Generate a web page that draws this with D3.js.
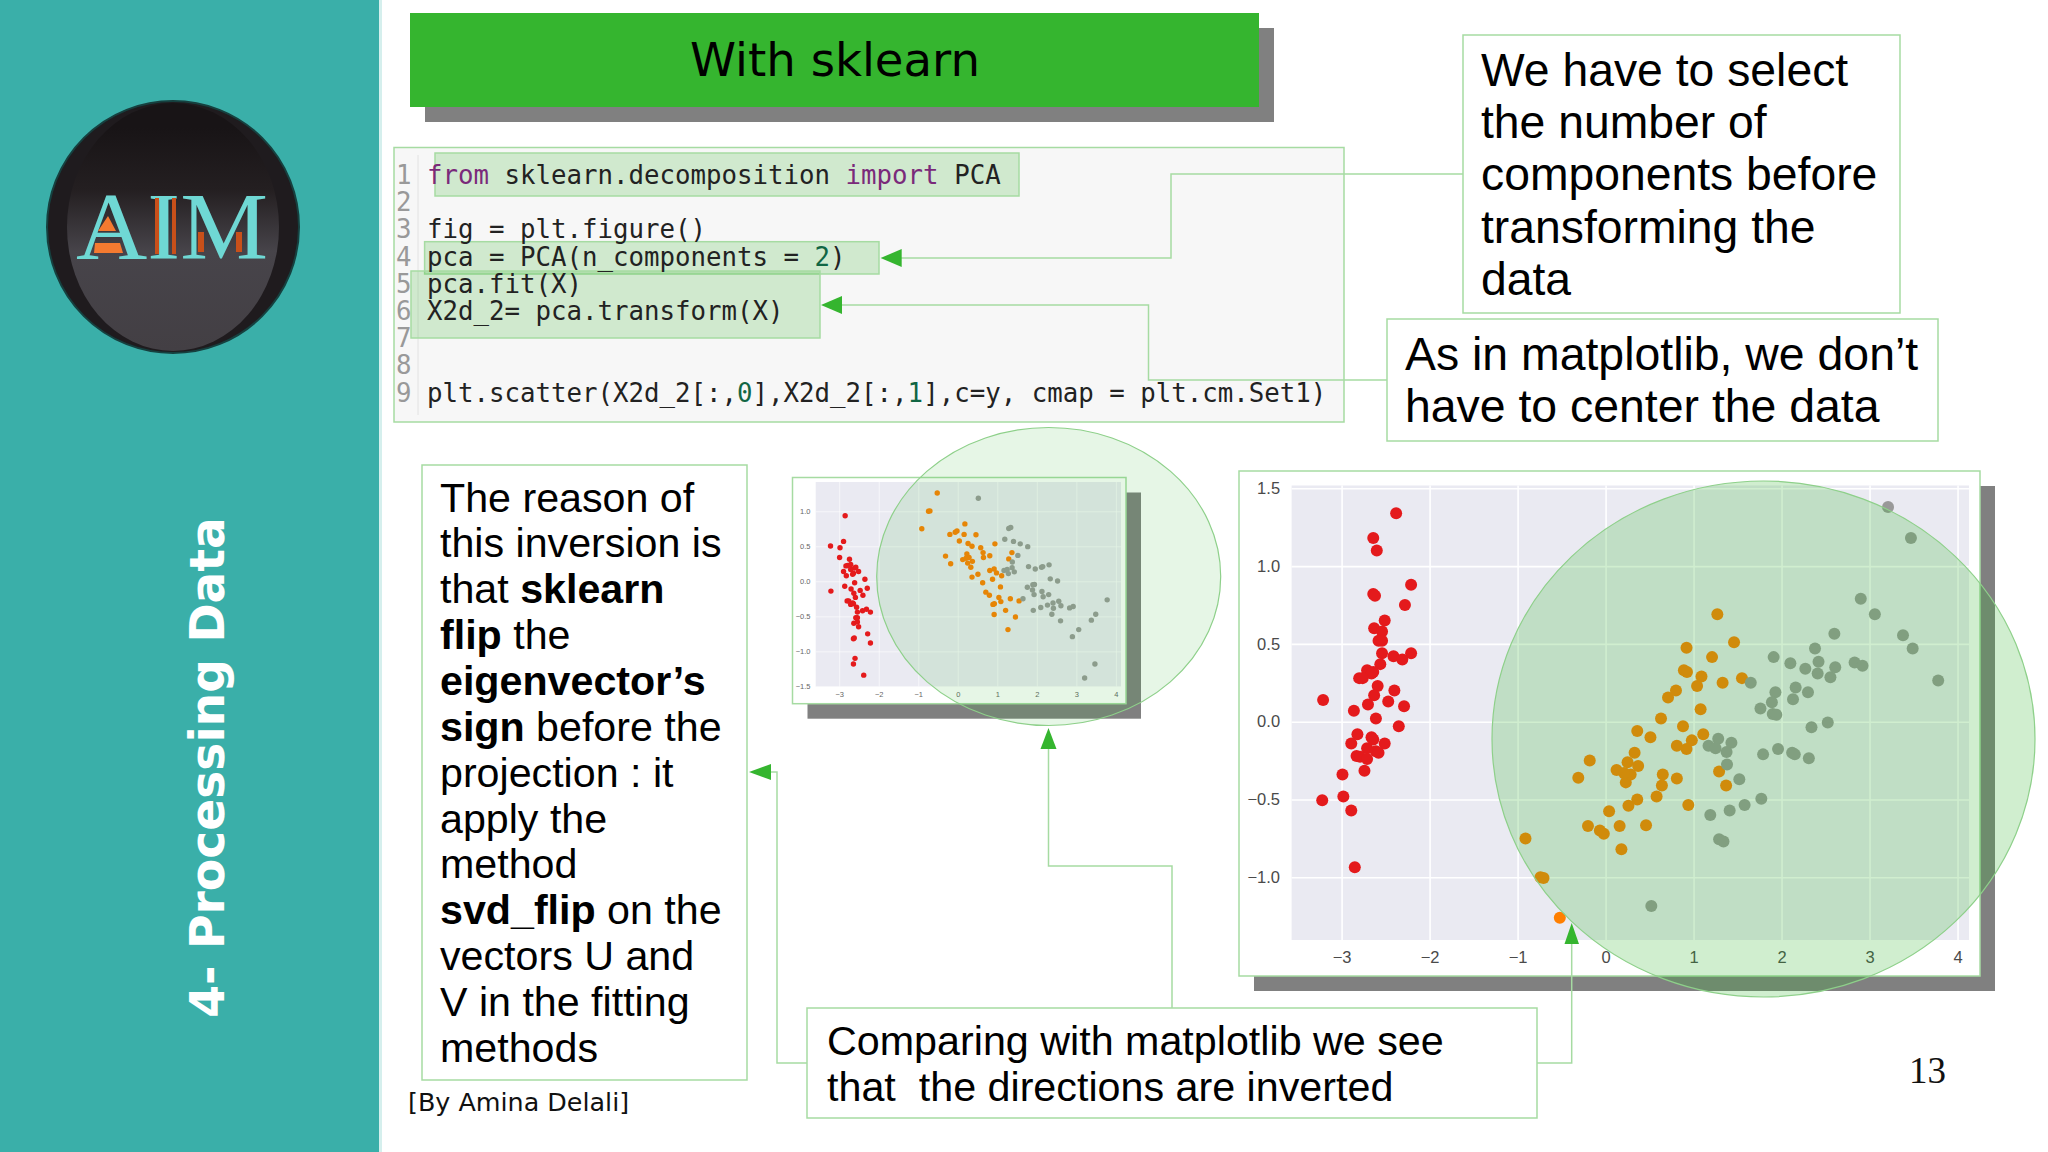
<!DOCTYPE html>
<html>
<head>
<meta charset="utf-8">
<script src="https://cdn.jsdelivr.net/npm/d3@7"></script>
<style>
  html, body { margin: 0; padding: 0; background: #fff; }
  svg { display: block; }
</style>
</head>
<body>
<svg id="slide" width="2048" height="1152"></svg>
<script>
const redPoints = [[-2.38,1.34],[-2.64,1.18],[-2.60,1.10],[-2.21,0.88],[-2.64,0.82],[-2.62,0.81],[-2.28,0.75],[-2.51,0.65],[-2.63,0.60],[-2.54,0.58],[-2.58,0.52],[-2.54,0.52],[-2.54,0.44],[-2.41,0.42],[-2.21,0.44],[-2.31,0.40],[-2.56,0.37],[-2.71,0.33],[-2.64,0.32],[-2.66,0.31],[-2.80,0.28],[-2.76,0.28],[-2.59,0.23],[-2.40,0.20],[-2.63,0.17],[-2.47,0.13],[-2.70,0.11],[-2.29,0.10],[-2.86,0.07],[-3.21,0.14],[-2.61,0.02],[-2.35,-0.03],[-2.82,-0.08],[-2.66,-0.10],[-2.64,-0.115],[-2.51,-0.14],[-2.89,-0.14],[-2.71,-0.17],[-2.61,-0.19],[-2.58,-0.20],[-2.83,-0.22],[-2.79,-0.225],[-2.71,-0.24],[-2.74,-0.315],[-2.99,-0.34],[-2.98,-0.48],[-3.22,-0.505],[-2.89,-0.57],[-2.85,-0.935]]
const orangePoints = [[-0.52,-1.26],[-0.74,-1.0],[-0.705,-1.005],[-0.91,-0.75],[0.18,-0.82],[-0.20,-0.67],[-0.065,-0.70],[-0.02,-0.72],[0.16,-0.67],[0.46,-0.665],[0.04,-0.575],[0.26,-0.54],[0.36,-0.50],[0.58,-0.48],[0.94,-0.535],[1.37,-0.41],[1.29,-0.32],[0.81,-0.365],[0.64,-0.41],[0.65,-0.34],[0.23,-0.39],[0.285,-0.34],[0.21,-0.33],[0.125,-0.31],[0.37,-0.285],[0.25,-0.26],[-0.18,-0.25],[-0.31,-0.36],[0.33,-0.20],[0.36,-0.06],[0.51,-0.10],[0.63,0.02],[0.88,-0.03],[0.81,-0.155],[0.92,-0.175],[0.98,-0.12],[1.11,-0.08],[1.08,0.08],[0.71,0.155],[0.80,0.20],[1.04,0.23],[1.09,0.29],[0.89,0.33],[0.925,0.32],[1.33,0.25],[1.55,0.28],[1.21,0.415],[0.92,0.475],[1.46,0.51],[1.27,0.69]]
const greyPoints = [[3.21,1.38],[3.47,1.18],[2.90,0.79],[3.06,0.69],[2.60,0.565],[3.38,0.555],[3.49,0.47],[2.38,0.47],[1.91,0.415],[2.10,0.375],[2.27,0.34],[2.42,0.385],[2.41,0.31],[2.555,0.285],[2.61,0.35],[2.83,0.38],[2.92,0.36],[3.78,0.265],[1.65,0.25],[2.16,0.22],[1.93,0.19],[2.30,0.19],[2.13,0.145],[1.89,0.125],[1.76,0.085],[1.90,0.05],[1.94,0.045],[2.525,-0.005],[2.34,-0.035],[1.43,-0.135],[1.28,-0.11],[1.17,-0.155],[1.25,-0.17],[1.375,-0.195],[1.79,-0.21],[1.96,-0.175],[2.12,-0.20],[2.15,-0.21],[2.31,-0.235],[1.38,-0.275],[1.52,-0.37],[1.77,-0.495],[1.58,-0.535],[1.41,-0.57],[1.19,-0.60],[1.29,-0.755],[1.34,-0.77],[0.52,-1.185]]

const xTicks = [-3, -2, -1, 0, 1, 2, 3, 4]
const bigYTicks = [1.5, 1.0, 0.5, 0.0, -0.5, -1.0]
const smallYTicks = [1.0, 0.5, 0.0, -0.5, -1.0, -1.5]

const series = [
  { points: redPoints, color: '#e41a1c' },
  { points: orangePoints, color: '#ff7f00' },
  { points: greyPoints, color: '#999999' },
]

const codeLines = [
  [['from', '#7a2a7a'], [' sklearn.decomposition ', '#222'], ['import', '#7a2a7a'], [' PCA', '#222']],
  [],
  [['fig = plt.figure()', '#222']],
  [['pca = PCA(n_components = ', '#222'], ['2', '#116644'], [')', '#222']],
  [['pca.fit(X)', '#222']],
  [['X2d_2= pca.transform(X)', '#222']],
  [],
  [],
  [['plt.scatter(X2d_2[:,', '#222'], ['0', '#116644'], ['],X2d_2[:,', '#222'], ['1', '#116644'], ['],c=y, cmap = plt.cm.Set1)', '#222']],
]

const selectLines = ['We have to select', 'the number of', 'components before', 'transforming the', 'data']
const centerLines = ['As in matplotlib, we don’t', 'have to center the data']
const compareLines = ['Comparing with matplotlib we see', 'that  the directions are inverted']
// bold parts are marked per line
const reasonLines = [
  [['The reason of', false]],
  [['this inversion is', false]],
  [['that ', false], ['sklearn', true]],
  [['flip', true], [' the', false]],
  [['eigenvector’s', true]],
  [['sign', true], [' before the', false]],
  [['projection : it', false]],
  [['apply the', false]],
  [['method', false]],
  [['svd_flip', true], [' on the', false]],
  [['vectors U and', false]],
  [['V in the fitting', false]],
  [['methods', false]],
]

const green = '#35b52f'
const lineGreen = '#a6dba2'
const sans = '"Liberation Sans", Arial, sans-serif'
const svg = d3.select('#slide')

const defs = svg.append('defs')
const logoGrad = defs.append('linearGradient').attr('id', 'logoGrad').attr('x1', 0).attr('x2', 0).attr('y1', 0).attr('y2', 1)
logoGrad.append('stop').attr('offset', '0.1').attr('stop-color', '#181416')
logoGrad.append('stop').attr('offset', '0.35').attr('stop-color', '#241f21')
logoGrad.append('stop').attr('offset', '0.6').attr('stop-color', '#47444a')
logoGrad.append('stop').attr('offset', '1').attr('stop-color', '#433f44')

drawSidebar()
drawHeader()
drawCodePanel()
drawTextBox(1463, 35, 437, 278, selectLines.map((d) => [[d, false]]), 1481, 86, 52.2, 46.3)
drawTextBox(1387, 319, 551, 122, centerLines.map((d) => [[d, false]]), 1405, 370, 52.2, 46.4)
drawTextBox(422, 465, 325, 615, reasonLines, 440, 511.5, 45.87, 41.2)
drawTextBox(807, 1008, 730, 110, compareLines.map((d) => [[d, false]]), 827, 1055, 46, 41.25)

drawScatter({
  box: [792.5, 477.5, 1126, 703.7],
  shadow: 15,
  xDomain: [-3.595, 4.13], xRange: [815.7, 1121],
  yDomain: [1.418, -1.505], yRange: [482, 686.7],
  yTicks: smallYTicks,
  flip: -1,
  r: 2.7,
  font: sans,
  fontSize: 7.5,
  fontColor: '#666',
  gridWidth: 0.6,
  ellipse: [1048.7, 576.5, 172, 149, 0.12],
})

drawScatter({
  box: [1239, 471, 1980, 976],
  shadow: 15,
  xDomain: [-3.568, 4.13], xRange: [1291.6, 1969],
  yDomain: [1.518, -1.403], yRange: [485.5, 940],
  yTicks: bigYTicks,
  flip: 1,
  r: 6,
  font: '"Liberation Sans Narrow", "Liberation Sans", sans-serif',
  fontSize: 16.5,
  fontColor: '#4a4a4a',
  gridWidth: 1.6,
  ellipse: [1763.5, 739, 271.5, 258, 0.23],
})

drawConnectors()

svg.append('text').attr('x', 408).attr('y', 1111)
  .style('font-family', '"DejaVu Sans"').style('font-size', '25.4px').attr('fill', '#111')
  .text('[By Amina Delali]')
svg.append('text').attr('x', 1909).attr('y', 1083)
  .style('font-family', '"Liberation Serif"').style('font-size', '37px').attr('fill', '#111')
  .text('13')

function drawSidebar() {
  svg.append('rect').attr('x', 378).attr('y', 0).attr('width', 4).attr('height', 1152).attr('fill', '#d5efed')
  svg.append('rect').attr('x', 0).attr('y', 0).attr('width', 379).attr('height', 1152).attr('fill', '#3aafa9')

  const logo = svg.append('g')
  logo.append('circle').attr('cx', 173).attr('cy', 227).attr('r', 126).attr('fill', '#1f1b1e').attr('stroke', '#16403f').attr('stroke-width', 2)
  logo.append('ellipse').attr('cx', 173).attr('cy', 227).attr('rx', 106).attr('ry', 124).attr('fill', 'url(#logoGrad)')
  logo.append('text').attr('x', 172).attr('y', 259).attr('text-anchor', 'middle')
    .attr('textLength', 192).attr('lengthAdjust', 'spacingAndGlyphs')
    .style('font-family', '"Liberation Serif"').style('font-size', '96px').attr('fill', '#6fd8d4')
    .text('AIM')
  logo.append('path').attr('d', 'M108 216L98 231H116ZM95 243H120L123 253H94Z').attr('fill', '#f47a30')
  logo.append('path').attr('d', 'M155 198h4v56h-4zM172 198h4v56h-4zM198 232h6v20h-6zM236 232h6v20h-6z').attr('fill', '#c8501a')

  svg.append('text')
    .attr('transform', 'translate(224,767.5) rotate(-90)')
    .attr('text-anchor', 'middle')
    .style('font-family', '"DejaVu Sans"').style('font-weight', 'bold').style('font-size', '47.2px')
    .attr('fill', '#fff')
    .text('4- Processing Data')
}

function drawHeader() {
  svg.append('rect').attr('x', 425).attr('y', 28).attr('width', 849).attr('height', 94).attr('fill', '#808080')
  svg.append('rect').attr('x', 410).attr('y', 13).attr('width', 849).attr('height', 94).attr('fill', green)
  svg.append('text').attr('x', 835).attr('y', 76).attr('text-anchor', 'middle')
    .style('font-family', '"DejaVu Sans"').style('font-size', '46.6px').attr('fill', '#000')
    .text('With sklearn')
}

function drawCodePanel() {
  svg.append('rect').attr('x', 394).attr('y', 147.5).attr('width', 950).attr('height', 274.5)
    .attr('fill', '#f7f7f7').attr('stroke', lineGreen).attr('stroke-width', 1.5)
  svg.append('line').attr('x1', 418).attr('x2', 418).attr('y1', 155).attr('y2', 415).attr('stroke', '#e2e2e2')

  // boxes go under the text, else they hide the underscore of line 4
  const boxes = [[435, 153, 584, 43], [424.6, 241.7, 454.4, 32.3], [411, 271, 409, 67]]
  svg.append('g').selectAll('rect').data(boxes).join('rect')
    .attr('x', (d) => d[0]).attr('y', (d) => d[1]).attr('width', (d) => d[2]).attr('height', (d) => d[3])
    .attr('fill', green).attr('fill-opacity', 0.2).attr('stroke', lineGreen).attr('stroke-width', 1.5)

  const rows = svg.append('g').selectAll('g').data(codeLines).join('g')
    .attr('transform', (d, i) => `translate(0,${184 + i * 27.2})`)
    .style('font-family', '"DejaVu Sans Mono"').style('font-size', '25.75px')
  rows.append('text').attr('x', 396).attr('fill', '#999').text((d, i) => i + 1)
  const code = rows.append('text').attr('x', 427).style('white-space', 'pre')
  code.selectAll('tspan').data((d) => d).join('tspan').attr('fill', (d) => d[1]).text((d) => d[0])
}

function drawTextBox(x, y, w, h, lines, tx, ty, lineStep, size) {
  svg.append('rect').attr('x', x).attr('y', y).attr('width', w).attr('height', h)
    .attr('fill', '#fff').attr('stroke', lineGreen).attr('stroke-width', 1.5)
  const rows = svg.append('g').selectAll('text').data(lines).join('text')
    .attr('x', tx).attr('y', (d, i) => ty + i * lineStep)
    .style('font-family', sans).style('font-size', size + 'px').style('white-space', 'pre')
    .attr('fill', '#000')
  rows.selectAll('tspan').data((d) => d).join('tspan')
    .style('font-weight', (d) => (d[1] ? 'bold' : 'normal'))
    .text((d) => d[0])
}

function drawScatter(o) {
  const [x0, y0, x1, y1] = o.box
  svg.append('rect').attr('x', x0 + o.shadow).attr('y', y0 + o.shadow).attr('width', x1 - x0).attr('height', y1 - y0).attr('fill', '#808080')
  svg.append('rect').attr('x', x0).attr('y', y0).attr('width', x1 - x0).attr('height', y1 - y0)
    .attr('fill', '#fff').attr('stroke', lineGreen).attr('stroke-width', 1.5)

  const x = d3.scaleLinear().domain(o.xDomain).range(o.xRange)
  const y = d3.scaleLinear().domain(o.yDomain).range(o.yRange)

  const g = svg.append('g')
  g.append('rect').attr('x', o.xRange[0]).attr('y', o.yRange[0])
    .attr('width', o.xRange[1] - o.xRange[0]).attr('height', o.yRange[1] - o.yRange[0]).attr('fill', '#eaeaf2')

  const fmt = (d) => (d < 0 ? '−' : '') + Math.abs(d)
  const fmtY = (d) => (d < 0 ? '−' : '') + Math.abs(d).toFixed(1)

  const xAxis = g.append('g').attr('transform', `translate(0,${o.yRange[1]})`)
    .call(d3.axisBottom(x).tickValues(xTicks).tickFormat(fmt).tickSize(-(o.yRange[1] - o.yRange[0])).tickPadding(o.fontSize * 0.7))
  const yAxis = g.append('g').attr('transform', `translate(${o.xRange[0]},0)`)
    .call(d3.axisLeft(y).tickValues(o.yTicks).tickFormat(fmtY).tickSize(-(o.xRange[1] - o.xRange[0])).tickPadding(o.fontSize * 0.7))

  for (const axis of [xAxis, yAxis]) {
    axis.select('.domain').remove()
    axis.selectAll('line').attr('stroke', '#fff').attr('stroke-width', o.gridWidth)
    axis.selectAll('text').attr('fill', o.fontColor)
      .style('font-family', o.font).style('font-size', o.fontSize + 'px')
  }

  for (const s of series) {
    g.append('g').selectAll('circle').data(s.points).join('circle')
      .attr('cx', (d) => x(d[0]))
      .attr('cy', (d) => y(o.flip * d[1]))
      .attr('r', o.r)
      .attr('fill', s.color)
  }

  const [cx, cy, rx, ry, alpha] = o.ellipse
  svg.append('ellipse').attr('cx', cx).attr('cy', cy).attr('rx', rx).attr('ry', ry)
    .attr('fill', green).attr('fill-opacity', alpha).attr('stroke', '#8ed08a').attr('stroke-width', 1.2)
}

function drawConnectors() {
  const lines = [
    [[901, 258], [1171, 258], [1171, 174], [1463, 174]],
    [[842, 305], [1148.5, 305], [1148.5, 380], [1387, 380]],
    [[771, 772], [777, 772], [777, 1063], [807, 1063]],
    [[1048.5, 747], [1048.5, 866], [1172, 866], [1172, 1008]],
    [[1571.7, 943], [1571.7, 1063], [1537, 1063]],
  ]
  svg.append('g').selectAll('path').data(lines).join('path')
    .attr('d', d3.line()).attr('fill', 'none').attr('stroke', lineGreen).attr('stroke-width', 1.5)

  const arrows = [
    [[880.6, 258], [901.7, 249], [901.7, 267]],
    [[821, 305], [842, 296], [842, 314]],
    [[749, 772], [771, 764], [771, 780]],
    [[1048.5, 728], [1040.5, 749], [1056.5, 749]],
    [[1571.7, 923], [1564.5, 944], [1579, 944]],
  ]
  svg.append('g').selectAll('path').data(arrows).join('path')
    .attr('d', (d) => d3.line()(d) + 'Z').attr('fill', green)
}
</script>
</body>
</html>
